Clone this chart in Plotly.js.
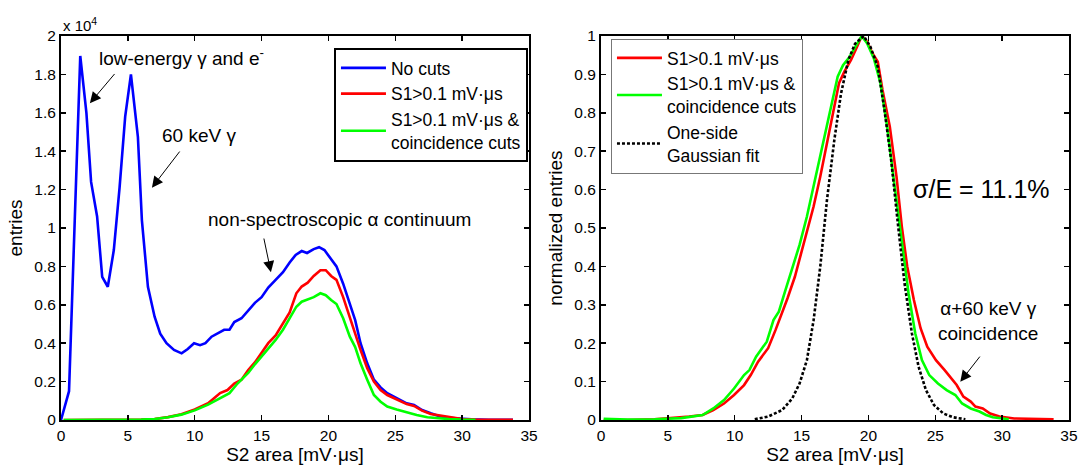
<!DOCTYPE html>
<html><head><meta charset="utf-8">
<script src="https://cdn.plot.ly/plotly-3.0.1.min.js"></script>
<style>html,body{margin:0;padding:0;background:#fff}#chart{width:1081px;height:468px}</style>
</head><body><div id="chart"></div>
<script>
// ---- Left panel: entries vs S2 area ----
const blueX = [0, 0.6, 1.44, 1.9, 2.25, 2.7, 3.08, 3.5, 3.95, 4.38, 4.8, 5.23, 5.75, 6.05, 6.5, 7.0, 7.42, 7.89, 8.45, 9.02, 9.48, 9.95, 10.4, 10.8, 11.26, 11.7, 12.2, 12.6, 12.96, 13.5, 14.0, 14.5, 15.0, 15.5, 16.05, 16.6, 17.1, 17.55, 18.0, 18.4, 18.9, 19.3, 19.7, 20.2, 20.6, 21.1, 21.6, 22.0, 22.4, 22.9, 23.4, 23.9, 24.4, 25.1, 25.85, 26.4, 27.0, 27.65, 28.3, 28.9, 29.7, 30.7, 32.0, 33.8];
const blueY = [0, 1500, 18960, 16000, 12400, 10600, 7460, 6940, 8850, 12100, 15800, 18000, 14750, 10400, 6940, 5380, 4500, 4000, 3650, 3470, 3700, 4000, 3900, 4000, 4340, 4500, 4700, 4700, 5100, 5300, 5700, 6100, 6400, 6900, 7300, 7700, 8200, 8600, 8800, 8700, 8900, 9000, 8850, 8400, 8000, 7100, 6100, 5200, 4000, 2950, 2100, 1700, 1400, 1130, 870, 780, 520, 350, 200, 120, 70, 30, 10, 10];

const redX = [0.2, 2, 4, 6, 7, 8, 9, 10, 11, 11.4, 11.9, 12.45, 12.96, 13.5, 14.0, 14.5, 15.0, 15.5, 16.05, 16.6, 17.1, 17.6, 18.0, 18.45, 18.9, 19.4, 19.8, 20.2, 20.6, 21.1, 21.6, 22.0, 22.4, 22.9, 23.4, 23.9, 24.4, 25.1, 25.85, 26.4, 27.0, 27.65, 28.3, 28.9, 30.0, 31.0, 33.8];
const redY = [0, 0, 0, 20, 50, 150, 300, 550, 870, 1100, 1400, 1560, 1900, 2100, 2600, 3000, 3500, 4000, 4400, 5000, 5600, 6600, 6950, 7150, 7500, 7800, 7800, 7500, 7300, 6400, 5400, 4500, 3650, 2700, 2000, 1560, 1300, 1080, 830, 730, 490, 310, 240, 140, 50, 20, 10];

const greenX = [0.2, 2, 4, 6, 7, 8, 9, 10, 11, 11.5, 12, 12.6, 13.2, 14.0, 14.5, 15.0, 15.5, 16.05, 16.6, 17.1, 17.6, 18.0, 18.45, 18.9, 19.4, 19.8, 20.2, 20.6, 21.1, 21.6, 22.0, 22.4, 22.9, 23.4, 23.9, 24.4, 25.1, 25.85, 26.6, 27.4, 28.2, 29.0, 30.0, 31.0];
const greenY = [0, 0, 0, 20, 50, 140, 280, 500, 800, 1000, 1200, 1400, 1900, 2450, 2900, 3300, 3750, 4170, 4700, 5300, 5900, 6160, 6280, 6400, 6600, 6500, 6250, 6040, 5300, 4340, 3800, 2950, 2100, 1300, 950, 700, 550, 400, 260, 140, 90, 50, 20, 10];

const leftTickVals = [0, 2000, 4000, 6000, 8000, 10000, 12000, 14000, 16000, 18000, 20000];
const leftTickText = ["0", "0.2", "0.4", "0.6", "0.8", "1", "1.2", "1.4", "1.6", "1.8", "2"];

// ---- Right panel: normalized entries ----
const rRedX = [0.2, 2, 4, 5.0, 6.6, 7.6, 8.4, 9.2, 9.95, 10.7, 11.2, 11.75, 12.5, 13.05, 13.4, 13.95, 14.5, 14.85, 15.4, 15.9, 16.4, 16.9, 17.45, 17.8, 18.2, 18.7, 19.1, 19.5, 19.9, 20.3, 20.7, 21.05, 21.6, 22.1, 22.5, 22.9, 23.4, 23.9, 24.4, 25.05, 25.7, 26.2, 26.6, 27.1, 27.65, 28.0, 28.55, 29.1, 29.8, 30.9, 32.7, 33.85];
const rRedY = [0, 0, 0.002, 0.004, 0.009, 0.013, 0.026, 0.043, 0.065, 0.091, 0.117, 0.152, 0.187, 0.234, 0.265, 0.317, 0.373, 0.417, 0.486, 0.556, 0.634, 0.72, 0.807, 0.877, 0.907, 0.9375, 0.968, 1.0, 0.985, 0.955, 0.933, 0.86, 0.764, 0.634, 0.503, 0.40, 0.3125, 0.239, 0.191, 0.156, 0.130, 0.1085, 0.091, 0.061, 0.048, 0.035, 0.030, 0.017, 0.009, 0.004, 0.003, 0.002];

const rGreenX = [0.2, 2, 4, 6, 7.6, 8.4, 9.2, 9.95, 10.7, 11.1, 11.6, 12.4, 12.9, 13.3, 13.8, 14.35, 14.85, 15.4, 15.9, 16.4, 16.9, 17.45, 17.7, 18.1, 18.6, 19.1, 19.5, 19.9, 20.4, 20.9, 21.4, 21.9, 22.5, 23.0, 23.5, 24.0, 24.55, 25.2, 25.85, 26.5, 27.0, 27.65, 28.3, 28.8, 29.3, 30.5];
const rGreenY = [0.003, 0.001, 0.002, 0.005, 0.013, 0.03, 0.052, 0.082, 0.117, 0.13, 0.165, 0.204, 0.26, 0.282, 0.339, 0.40, 0.456, 0.53, 0.608, 0.686, 0.764, 0.85, 0.894, 0.924, 0.946, 0.977, 1.0, 0.981, 0.942, 0.877, 0.764, 0.625, 0.469, 0.33, 0.226, 0.156, 0.117, 0.095, 0.078, 0.065, 0.043, 0.030, 0.022, 0.013, 0.007, 0.002];

const gaussX = [11.5, 12.5, 13.55, 14.3, 14.85, 15.4, 15.9, 16.4, 16.9, 17.45, 17.95, 18.5, 19.0, 19.65, 20.15, 20.7, 21.2, 21.7, 22.2, 22.7, 23.25, 23.75, 24.3, 24.9, 25.6, 26.35, 27.25];
const gaussY = [0.002, 0.009, 0.026, 0.056, 0.095, 0.156, 0.26, 0.40, 0.573, 0.729, 0.85, 0.9375, 0.98, 1.0, 0.972, 0.92, 0.807, 0.677, 0.512, 0.356, 0.226, 0.139, 0.078, 0.039, 0.017, 0.007, 0.002];

const rightTickVals = [0, 0.1, 0.2, 0.3, 0.4, 0.5, 0.6, 0.7, 0.8, 0.9, 1];

const FONT = "Liberation Sans, Arial, sans-serif";
const LW = 2.6;
const GREEN = '#00ff00';

const traces = [
  {x: blueX, y: blueY, xaxis: 'x', yaxis: 'y', mode: 'lines', name: 'No cuts', line: {color: '#0000ff', width: LW}, legend: 'legend'},
  {x: redX, y: redY, xaxis: 'x', yaxis: 'y', mode: 'lines', name: 'S1&gt;0.1 mV·μs', line: {color: '#ff0000', width: LW}, legend: 'legend'},
  {x: greenX, y: greenY, xaxis: 'x', yaxis: 'y', mode: 'lines', name: 'S1&gt;0.1 mV·μs &amp;<br>coincidence cuts', line: {color: GREEN, width: LW}, legend: 'legend'},
  {x: rRedX, y: rRedY, xaxis: 'x2', yaxis: 'y2', mode: 'lines', name: 'S1&gt;0.1 mV·μs', line: {color: '#ff0000', width: LW}, legend: 'legend2'},
  {x: rGreenX, y: rGreenY, xaxis: 'x2', yaxis: 'y2', mode: 'lines', name: 'S1&gt;0.1 mV·μs &amp;<br>coincidence cuts', line: {color: GREEN, width: LW}, legend: 'legend2'},
  {x: gaussX, y: gaussY, xaxis: 'x2', yaxis: 'y2', mode: 'lines', name: 'One-side<br>Gaussian fit', line: {color: '#000000', width: LW, dash: '3px,2px'}, legend: 'legend2'}
];

const axisCommon = {
  showline: true, linecolor: '#000', linewidth: 2, mirror: 'allticks',
  ticks: 'inside', ticklen: 5, tickwidth: 1.5, tickcolor: '#000',
  showgrid: false, zeroline: false,
  tickfont: {family: FONT, size: 15.5, color: '#000'}
};
const xTitle = {text: 'S2 area [mV·μs]', font: {family: FONT, size: 19, color: '#000'}, standoff: 4};

const arrowStyle = {showarrow: true, arrowhead: 2, arrowsize: 2.2, arrowwidth: 1, arrowcolor: '#000', text: ''};

const layout = {
  width: 1081, height: 468,
  margin: {l: 61, r: 12, t: 36, b: 48},
  paper_bgcolor: '#fff', plot_bgcolor: '#fff',
  font: {family: FONT, color: '#000'},
  xaxis: Object.assign({}, axisCommon, {domain: [0, 0.4643], range: [0, 35], tickvals: [0,5,10,15,20,25,30,35], title: xTitle, anchor: 'y'}),
  yaxis: Object.assign({}, axisCommon, {domain: [0, 1], range: [0, 20000], tickvals: leftTickVals, ticktext: leftTickText, anchor: 'x',
    title: {text: 'entries', font: {family: FONT, size: 19, color: '#000'}, standoff: 7}}),
  xaxis2: Object.assign({}, axisCommon, {domain: [0.5357, 1], range: [0, 35], tickvals: [0,5,10,15,20,25,30,35], title: xTitle, anchor: 'y2'}),
  yaxis2: Object.assign({}, axisCommon, {domain: [0, 1], range: [0, 1], tickvals: rightTickVals, anchor: 'x2',
    title: {text: 'normalized entries', font: {family: FONT, size: 19, color: '#000'}, standoff: 7}}),
  showlegend: true,
  legend: {x: 0.2708, y: 0.96875, xanchor: 'left', yanchor: 'top', bgcolor: '#fff', bordercolor: '#000', borderwidth: 2,
    font: {family: FONT, size: 17.5, color: '#000'}, tracegroupgap: 0, itemwidth: 45},
  legend2: {x: 0.5456, y: 0.9922, xanchor: 'left', yanchor: 'top', bgcolor: '#fff', bordercolor: '#777', borderwidth: 1,
    font: {family: FONT, size: 17.5, color: '#000'}, tracegroupgap: 0, itemwidth: 45},
  annotations: [
    {xref: 'paper', yref: 'paper', x: 0, y: 1.03125, xanchor: 'left', yanchor: 'middle', showarrow: false,
     text: 'x 10<sup>4</sup>', font: {family: FONT, size: 15, color: '#000'}},
    {xref: 'x', yref: 'y', x: 2.66, y: 18906, xanchor: 'left', yanchor: 'middle', showarrow: false,
     text: 'low-energy γ and e<sup>-</sup>', font: {family: FONT, size: 19, color: '#000'}},
    Object.assign({xref: 'x', yref: 'y', x: 2.16, y: 16500, ax: 4.1, ay: 18100, axref: 'x', ayref: 'y'}, arrowStyle),
    {xref: 'x', yref: 'y', x: 10.32, y: 14844, xanchor: 'center', yanchor: 'middle', showarrow: false,
     text: '60 keV γ', font: {family: FONT, size: 19, color: '#000'}},
    Object.assign({xref: 'x', yref: 'y', x: 6.8, y: 12100, ax: 8.96, ay: 14060, axref: 'x', ayref: 'y'}, arrowStyle),
    {xref: 'x', yref: 'y', x: 20.79, y: 10417, xanchor: 'center', yanchor: 'middle', showarrow: false,
     text: 'non-spectroscopic α continuum', font: {family: FONT, size: 19, color: '#000'}},
    Object.assign({xref: 'x', yref: 'y', x: 15.7, y: 7700, ax: 15.15, ay: 9530, axref: 'x', ayref: 'y'}, arrowStyle),
    {xref: 'x2', yref: 'y2', x: 28.42, y: 0.6016, xanchor: 'center', yanchor: 'middle', showarrow: false,
     text: 'σ/E = 11.1%', font: {family: FONT, size: 25, color: '#000'}},
    {xref: 'x2', yref: 'y2', x: 28.94, y: 0.259, xanchor: 'center', yanchor: 'middle', showarrow: false,
     text: 'α+60 keV γ<br>coincidence', font: {family: FONT, size: 19, color: '#000'}},
    Object.assign({xref: 'x2', yref: 'y2', x: 26.87, y: 0.0998, ax: 28.42, ay: 0.169, axref: 'x2', ayref: 'y2'}, arrowStyle)
  ]
};

Plotly.newPlot('chart', traces, layout, {displayModeBar: false, staticPlot: true});
</script></body></html>
